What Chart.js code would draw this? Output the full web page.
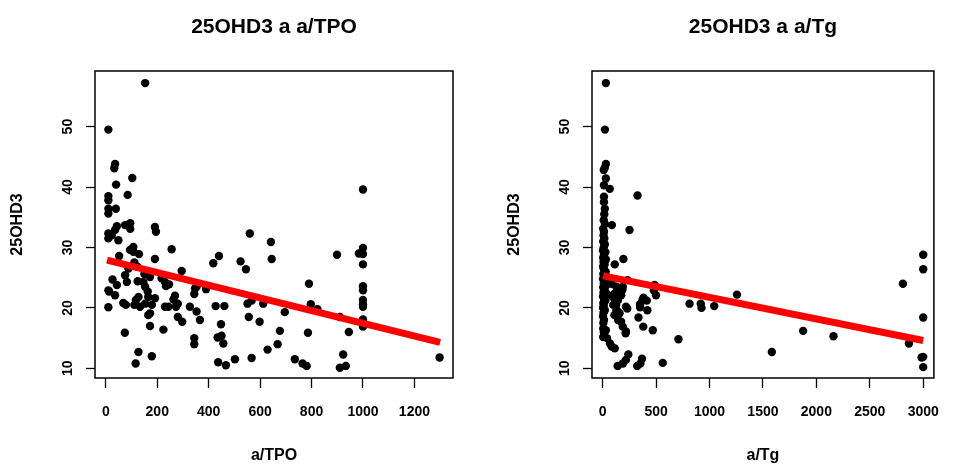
<!DOCTYPE html>
<html>
<head>
<meta charset="utf-8">
<script src="https://cdn.jsdelivr.net/npm/chart.js@4.4.0/dist/chart.umd.min.js"></script>
<style>
html, body { margin: 0; padding: 0; background: #fff; }
#wrap { position: relative; width: 955px; height: 467px; }
.pane { position: absolute; top: 0; height: 467px; }
</style>
</head>
<body>
<div id="wrap">
<div class="pane" style="left:0;width:478px"><canvas id="tpoChart" width="478" height="467"></canvas></div>
<div class="pane" style="left:478px;width:477px"><canvas id="tgChart" width="477" height="467"></canvas></div>
</div>
<script>
// a/TPO vs 25OHD3 (left panel)
const tpoX = [153, 10, 36, 33, 103, 40, 85, 10, 10, 10,
  10, 39, 43, 36, 75, 95, 95, 10, 10, 23,
  49, 191, 195, 256, 107, 94, 107, 52, 129, 191,
  111, 88, 123, 295, 150, 172, 146, 124, 26, 43,
  82, 217, 230, 234, 246, 153, 163, 165, 13, 36,
  127, 117, 111, 133, 153, 179, 191, 269, 280, 263,
  344, 353, 347, 390, 10, 68, 78, 172, 165, 230,
  243, 273, 276, 327, 353, 366, 280, 297, 172, 224,
  74, 344, 344, 127, 116, 179, 427, 461, 448, 435,
  450, 457, 437, 467, 502, 418, 440, 524, 545, 560,
  642, 645, 551, 567, 612, 556, 598, 677, 629, 668,
  567, 696, 1000, 899, 984, 1000, 1000, 1000, 1000, 1000,
  1000, 1000, 1000, 1000, 1000, 790, 797, 823, 786, 910,
  945, 923, 910, 933, 735, 765, 781, 1298, 10, 75];
const tpoY = [57.2, 49.5, 43.8, 43.1, 41.5, 40.4, 38.7, 38.5, 37.8, 36.4,
  35.6, 36.4, 33.5, 32.9, 33.7, 34, 33.1, 32.3, 31.5, 32,
  31.2, 33.4, 32.6, 29.7, 30.1, 29.6, 29.3, 28.6, 28.9, 28.1,
  27.5, 26.5, 26.8, 26.1, 25.6, 25.1, 24.3, 24.4, 24.7, 23.8,
  24.3, 24.9, 24.3, 23.6, 23.9, 23.5, 22.7, 21.8, 22.7, 22.1,
  21.8, 21.3, 20.5, 20.2, 20.7, 20.5, 21.6, 22, 20.7, 21.4,
  22.3, 23.5, 23.2, 23.1, 20.1, 20.8, 20.5, 19.1, 18.8, 20.2,
  20.2, 20.2, 20.6, 20.2, 19.4, 18, 18.5, 17.7, 17, 16.4,
  15.9, 15, 14, 12.7, 10.8, 12, 20.3, 20.3, 17.3, 15.1,
  15.4, 14.1, 11, 10.5, 11.5, 27.4, 28.6, 27.7, 26.4, 32.3,
  30.9, 28.1, 20.7, 21.2, 20.7, 18.5, 17.7, 16.2, 13.1, 14,
  11.7, 19.3, 39.6, 28.8, 29, 29.9, 28.9, 27.2, 23.6, 22.9,
  21.3, 20.6, 20.2, 18.1, 16.9, 24, 20.6, 19.8, 15.9, 18.5,
  16, 12.3, 10.1, 10.4, 11.5, 10.8, 10.4, 11.8, 22.9, 25.4];

// a/Tg vs 25OHD3 (right panel)
const tgX = [30, 21, 30, 20, 10, 30, 12, 66, 326, 12,
  12, 20, 15, 10, 21, 86, 5, 251, 12, 8,
  15, 5, 20, 10, 3, 25, 12, 5, 30, 8,
  18, 4, 12, 28, 6, 15, 3, 22, 10, 35,
  5, 18, 8, 40, 3, 14, 25, 6, 10, 4,
  20, 8, 3, 12, 6, 5, 10, 5, 194, 113,
  233, 83, 128, 188, 113, 173, 144, 218, 99, 128,
  158, 144, 173, 188, 218, 110, 30, 40, 68, 84,
  113, 140, 188, 218, 240, 323, 353, 368, 562, 215,
  380, 469, 709, 335, 418, 350, 373, 350, 382, 413,
  485, 499, 478, 230, 813, 918, 925, 1044, 1257, 1583,
  1876, 2160, 2810, 2866, 3000, 3000, 3000, 3000, 2985, 3000,
  95, 126, 140, 185, 155];
const tgY = [57.2, 49.5, 43.8, 43.2, 42.8, 41.4, 40.3, 39.7, 38.6, 38.4,
  37.5, 36.4, 35.5, 34.5, 33.9, 33.7, 33.1, 32.9, 32.6, 32.0,
  31.5, 31.0, 30.5, 30.0, 29.5, 29.2, 28.8, 28.3, 28.0, 27.6,
  27.2, 26.8, 26.4, 26.0, 25.6, 25.2, 24.8, 24.5, 24.1, 23.8,
  23.4, 23.0, 22.6, 22.3, 21.9, 21.5, 21.2, 20.8, 20.4, 20.0,
  19.6, 19.2, 18.6, 18.0, 17.5, 16.6, 16.0, 15.2, 28.1, 27.2,
  24.6, 24, 23.5, 23.5, 22.4, 22.1, 21.3, 20.2, 20.5, 19.6,
  19.1, 18, 17.7, 16.9, 16.1, 18.8, 16.3, 15.0, 14.1, 13.6,
  13.3, 10.4, 10.8, 11.4, 12.3, 10.4, 10.8, 11.6, 10.9, 15.8,
  16.9, 16.3, 14.8, 18.4, 19.6, 20.1, 21.3, 20.6, 21.7, 21.2,
  23.8, 22.1, 22.9, 19.9, 20.7, 20.7, 20.0, 20.3, 22.2, 12.7,
  16.2, 15.3, 24, 14.1, 28.8, 26.4, 18.4, 11.9, 11.8, 10.2,
  21.8, 20.5, 19.4, 23.0, 22.7];

// fitted regression lines (end points)
const tpoFitX = [5, 1300];
const tpoFitY = [27.9, 14.3];
const tgFitX = [5, 3000];
const tgFitY = [25.3, 14.6];

const tpoTicks = [0, 200, 400, 600, 800, 1000, 1200];
const tgTicks = [0, 500, 1000, 1500, 2000, 2500, 3000];
const yTicks = [10, 20, 30, 40, 50];

const FONT = "'Liberation Sans Narrow', 'Arial Narrow', 'Liberation Sans', sans-serif";

function toPoints(xs, ys) {
  const out = [];
  for (let i = 0; i < xs.length; i++) {
    out.push({ x: xs[i], y: ys[i] });
  }
  return out;
}

// R-like box, centred title and rotated y tick labels
const rStyle = {
  id: "rStyle",
  afterDraw(chart, args, opts) {
    const ctx = chart.ctx;
    const a = chart.chartArea;
    ctx.save();
    ctx.strokeStyle = "#000";
    ctx.lineWidth = 1.5;
    ctx.strokeRect(a.left, a.top, a.right - a.left, a.bottom - a.top);
    ctx.fillStyle = "#000";
    ctx.textAlign = "center";
    ctx.textBaseline = "middle";
    ctx.font = "bold 21px " + FONT;
    ctx.fillText(opts.title, (a.left + a.right) / 2, 27);
    ctx.font = "bold 14px " + FONT;
    const ys = chart.scales.y;
    ys.ticks.forEach(t => {
      const py = ys.getPixelForValue(t.value);
      ctx.save();
      ctx.translate(a.left - 27, py);
      ctx.rotate(-Math.PI / 2);
      ctx.fillText(String(t.value), 0, 0);
      ctx.restore();
    });
    ctx.restore();
  }
};

function makePanel(id, opt) {
  const ctx = document.getElementById(id);
  return new Chart(ctx, {
    type: "scatter",
    data: {
      datasets: [
        {
          type: "line",
          data: toPoints(opt.fitX, opt.fitY),
          borderColor: "#ff0000",
          borderWidth: 7,
          pointRadius: 0,
          borderCapStyle: "butt",
          fill: false
        },
        {
          data: toPoints(opt.xs, opt.ys),
          backgroundColor: "#000",
          borderWidth: 0,
          pointRadius: 4.2
        }
      ]
    },
    options: {
      responsive: false,
      animation: false,
      layout: {
        padding: { top: 71, right: opt.padRight, left: 0, bottom: 0 }
      },
      plugins: {
        legend: { display: false },
        tooltip: { enabled: false },
        rStyle: { title: opt.title }
      },
      scales: {
        x: {
          type: "linear",
          min: opt.xMin,
          max: opt.xMax,
          afterBuildTicks: s => { s.ticks = opt.xTicks.map(v => ({ value: v })); },
          afterFit: s => { s.height = 89; },
          border: { display: false },
          grid: { drawOnChartArea: false, drawTicks: true, tickLength: 10, tickColor: "#000", tickWidth: 1.3 },
          ticks: { color: "#000", padding: 16, maxRotation: 0, callback: v => String(v), font: { family: FONT, size: 14, weight: "bold" } },
          title: { display: true, text: opt.xTitle, color: "#000", padding: { top: 0, bottom: 2 }, font: { family: FONT, size: 16, weight: "bold" } }
        },
        y: {
          type: "linear",
          min: 8.4,
          max: 59.2,
          afterBuildTicks: s => { s.ticks = yTicks.map(v => ({ value: v })); },
          afterFit: s => { s.width = opt.yWidth; },
          border: { display: false },
          grid: { drawOnChartArea: false, drawTicks: true, tickLength: 9, tickColor: "#000", tickWidth: 1.3 },
          ticks: { color: "rgba(0,0,0,0)", callback: v => String(v), font: { family: FONT, size: 14, weight: "bold" } },
          title: { display: true, text: "25OHD3", color: "#000", padding: { top: opt.yTitlePad, bottom: 0 }, font: { family: FONT, size: 16, weight: "bold" } }
        }
      }
    },
    plugins: [rStyle]
  });
}

makePanel("tpoChart", {
  xs: tpoX, ys: tpoY, fitX: tpoFitX, fitY: tpoFitY,
  xMin: -42, xMax: 1350, xTicks: tpoTicks,
  title: "25OHD3 a a/TPO", xTitle: "a/TPO",
  yWidth: 95, yTitlePad: 8.4, padRight: 25
});

makePanel("tgChart", {
  xs: tgX, ys: tgY, fitX: tgFitX, fitY: tgFitY,
  xMin: -100, xMax: 3100, xTicks: tgTicks,
  title: "25OHD3 a a/Tg", xTitle: "a/Tg",
  yWidth: 114, yTitlePad: 27.4, padRight: 7
});
</script>
</body>
</html>
